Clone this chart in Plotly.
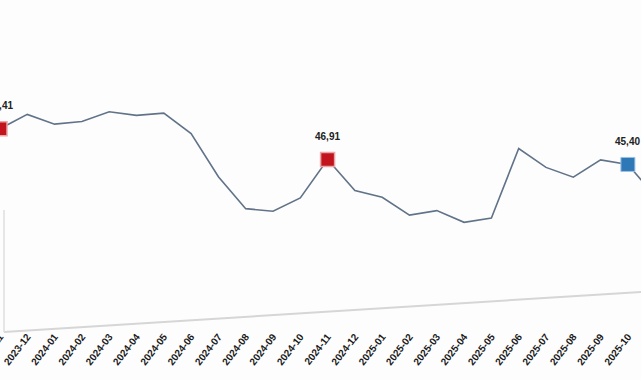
import plotly.graph_objects as go

months = ["2023-11", "2023-12", "2024-01", "2024-02", "2024-03", "2024-04",
          "2024-05", "2024-06", "2024-07", "2024-08", "2024-09", "2024-10",
          "2024-11", "2024-12", "2025-01", "2025-02", "2025-03", "2025-04",
          "2025-05", "2025-06", "2025-07", "2025-08", "2025-09", "2025-10",
          "2025-11"]
values = [56.41, 60.8, 57.8, 58.6, 61.6, 60.5,
          61.2, 54.9, 41.6, 31.8, 31.0, 35.1,
          46.91, 37.4, 35.3, 29.8, 31.2, 27.6,
          28.9, 50.3, 44.5, 41.5, 46.8, 45.40,
          35.6]
red_months = ["2023-11", "2024-11"]
blue_months = ["2025-10"]

W, H = 641, 380
plot_bottom = 312  # px from top

fig = go.Figure()
fig.add_trace(go.Scatter(
    x=months, y=values, mode="lines",
    line=dict(color="#617389", width=1.6),
    hoverinfo="skip", showlegend=False, cliponaxis=False))

def pick(ms):
    return [values[months.index(m)] for m in ms]

fig.add_trace(go.Scatter(
    x=red_months, y=pick(red_months), mode="markers",
    marker=dict(symbol="square", size=14, color="#c2141c",
                line=dict(color="#eaa6a6", width=1.5)),
    showlegend=False, cliponaxis=False))
fig.add_trace(go.Scatter(
    x=blue_months, y=pick(blue_months), mode="markers",
    marker=dict(symbol="square", size=14, color="#2f78b8",
                line=dict(color="#9cc1e2", width=1)),
    showlegend=False, cliponaxis=False))

for m in red_months + blue_months:
    v = values[months.index(m)]
    fig.add_annotation(x=m, y=v, text=f"<b>{v:.2f}</b>".replace(".", ","),
                       showarrow=False, yshift=23,
                       font=dict(family="Liberation Sans", size=10,
                                 color="#222222"))

# slanted baseline and left axis line (as seen in the reference photo)
def py(px):
    return (plot_bottom - px) / plot_bottom

fig.add_shape(type="line", xref="paper", yref="paper",
              x0=4 / W, y0=py(332), x1=1, y1=py(292),
              line=dict(color="#d6d6d6", width=2))
fig.add_shape(type="line", xref="paper", yref="paper",
              x0=4 / W, y0=py(332), x1=4 / W, y1=py(210),
              line=dict(color="#dedede", width=1.5))

fig.update_layout(
    width=W, height=H,
    margin=dict(l=0, r=0, t=0, b=H - plot_bottom),
    paper_bgcolor="#fdfdfd", plot_bgcolor="#fdfdfd",
    xaxis=dict(type="category", range=[0, 23.48], showgrid=False,
               showline=False, zeroline=False, automargin=False,
               ticks="outside", ticklen=14, tickcolor="rgba(0,0,0,0)",
               tickangle=-52,
               tickfont=dict(family="Liberation Sans", size=10,
                             color="#1a1a1a", weight="bold")),
    yaxis=dict(range=[0, plot_bottom / 3.25], visible=False,
               showgrid=False, zeroline=False, automargin=False),
)

fig.write_html("out.html")
